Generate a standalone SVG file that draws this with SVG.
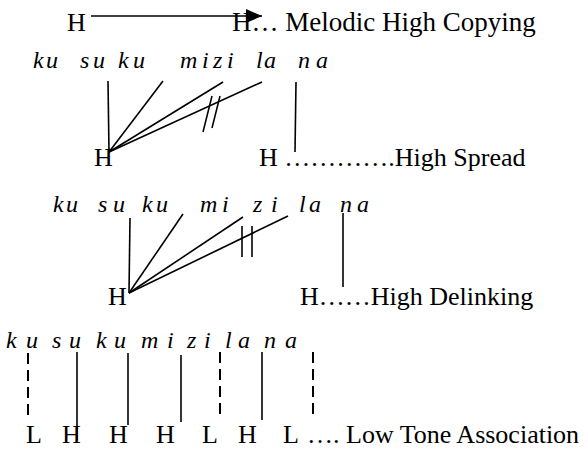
<svg xmlns="http://www.w3.org/2000/svg" width="588" height="450" viewBox="0 0 588 450">
<style>
.t{font-size:26px}
.t1{font-size:27px}
.s{font-size:24px;font-style:italic}
.ln{stroke:#000;stroke-width:1.6;fill:none}
.dl{stroke:#000;stroke-width:2;fill:none;stroke-dasharray:11 6}
</style>
<defs>
<marker id="ah" viewBox="0 0 16 14" refX="16" refY="7" markerWidth="16" markerHeight="14" markerUnits="userSpaceOnUse" orient="auto">
<path d="M0,0 L16,7 L0,14 Z" fill="#000"/>
</marker>
</defs>
<g font-family="'Liberation Serif', 'Times New Roman', 'DejaVu Serif', serif" fill="#000">
<g id="row1">
<text class="t" x="67" y="31">H</text>
<text class="t1" x="232" y="31">H… Melodic High Copying</text>
</g>
<g id="row2">
<text class="s" y="68" x="33 46 80 93 118 133 180 202 213 227 256 264 298 316">kusukumizilana</text>
<text class="t" x="94" y="166">H</text>
<text class="t" x="259" y="166">H ………….High Spread</text>
</g>
<g id="row3">
<text class="s" y="212" x="53 66 98 113 142 156 200 222 253 271 299 309 340 357">kusukumizilana</text>
<text class="t" x="108" y="305">H</text>
<text class="t" x="300" y="305">H……High Delinking</text>
</g>
<g id="row4">
<text class="s" y="348" x="6 26 52 69 96 114 141 167 187 204 225 238 264 285">kusukumizilana</text>
<text class="t" y="443" x="26 62 109 156 202 238 283">LHHHLHL</text>
<text class="t" x="307" y="443">…. Low Tone Association</text>
</g>
</g>
<g id="connectors">
<line class="ln" x1="91" y1="16" x2="262" y2="16" stroke-width="2" marker-end="url(#ah)"/>
<line class="ln" x1="109" y1="152" x2="108" y2="81"/>
<line class="ln" x1="109" y1="152" x2="163" y2="81"/>
<line class="ln" x1="109" y1="152" x2="223" y2="82"/>
<line class="ln" x1="109" y1="152" x2="262" y2="82"/>
<line class="ln" x1="212" y1="96" x2="203" y2="132"/>
<line class="ln" x1="220" y1="96" x2="212" y2="128"/>
<line class="ln" x1="296" y1="82" x2="295" y2="152"/>
<line class="ln" x1="129" y1="293" x2="130" y2="218"/>
<line class="ln" x1="129" y1="293" x2="183" y2="214"/>
<line class="ln" x1="129" y1="293" x2="243" y2="217"/>
<line class="ln" x1="129" y1="293" x2="288" y2="216"/>
<line class="ln" x1="242" y1="226" x2="242" y2="257"/>
<line class="ln" x1="252" y1="226" x2="252" y2="257"/>
<line class="ln" x1="343" y1="213" x2="343" y2="287"/>
<line class="dl" x1="28" y1="353" x2="28" y2="418"/>
<line class="ln" x1="77" y1="352" x2="77" y2="440"/>
<line class="ln" x1="128" y1="353" x2="128" y2="425"/>
<line class="ln" x1="181" y1="355" x2="181" y2="422"/>
<line class="dl" x1="220" y1="352" x2="220" y2="418"/>
<line class="ln" x1="262" y1="352" x2="262" y2="420"/>
<line class="dl" x1="313" y1="352" x2="313" y2="415"/>
</g>
</svg>
